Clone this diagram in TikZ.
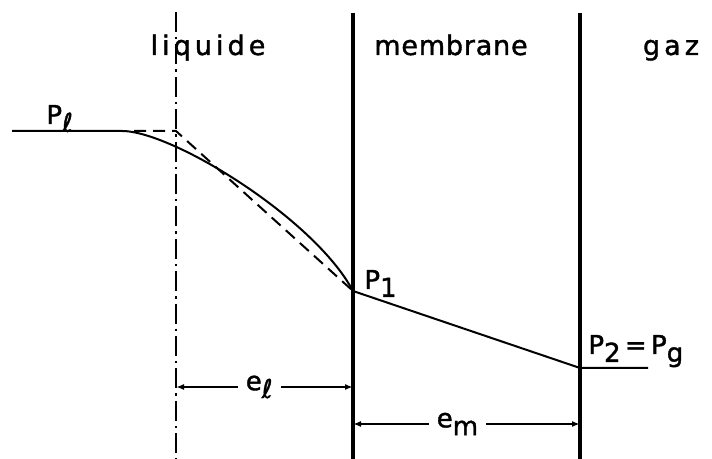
\documentclass[tikz,border=0pt]{standalone}
\usepackage{fontspec}
\setmainfont[FakeBold=1.4]{DejaVu Sans}
\newfontfamily\widefont[LetterSpace=15,FakeBold=1.4]{DejaVu Sans}
\newfontfamily\midfont[LetterSpace=3,FakeBold=1.4]{DejaVu Sans}
\usetikzlibrary{arrows.meta}
\newcommand{\lsub}[1]{\raisebox{-0.55ex}{#1}}

\begin{document}
\begin{tikzpicture}[
  x=0.5pt, y=-0.5pt,
  wall/.style={line width=1.6pt},
  axisline/.style={line width=1pt, dash pattern=on 10pt off 2.5pt on 1.2pt off 2.5pt},
  prof/.style={line width=1pt},
  tang/.style={line width=1pt, dash pattern=on 6pt off 3.5pt},
  dim/.style={{Latex[length=4pt,width=3pt]}-{Latex[length=4pt,width=3pt]}, line width=0.8pt},
  zone/.style={font=\fontsize{13.5}{15}\selectfont, anchor=base},
  lab/.style={font=\fontsize{13}{15}\selectfont, inner sep=0pt, anchor=base west},
  dimlab/.style={font=\fontsize{13}{15}\selectfont, fill=white, inner sep=4pt},
  ]
  \useasboundingbox (0,0) rectangle (712,459);
  % interfaces
  \coordinate (ax-top) at (176,12);
  \coordinate (ax-bot) at (176,459);
  \coordinate (m1-top) at (353,13);
  \coordinate (m1-bot) at (353,459);
  \coordinate (m2-top) at (580,13);
  \coordinate (m2-bot) at (580,459);
  \draw[axisline] (ax-top) -- (ax-bot);
  \draw[wall] (m1-top) -- (m1-bot);
  \draw[wall] (m2-top) -- (m2-bot);
  % zone names
  \node[zone] (liq) at (208,55) {\widefont liquide};
  \node[zone] (mem) at (451,55) {\midfont membrane};
  \node[zone] (gaz) at (671,55) {\widefont gaz};
  % pressure profile
  \coordinate (pl) at (12,131);
  \coordinate (bend) at (122,131);
  \coordinate (tan-start) at (134,131);
  \coordinate (knee) at (176,131);
  \coordinate (p1) at (353,291);
  \coordinate (p2) at (580,368);
  \coordinate (pg) at (648,368);
  \draw[prof] (pl) -- (bend) .. controls (172,131) and (314,218) .. (p1) -- (p2) -- (pg);
  \draw[tang] (tan-start) -- (knee) -- (p1);
  % pressure labels
  \node[lab] (lbl-pl) at (46,124) {P\lsub{ℓ}};
  \node[lab] (lbl-p1) at (364,289) {P\lsub{1}};
  \node[lab] (lbl-p2) at (588,354) {P\lsub{2}\,=\,P\lsub{g}};
  % thicknesses
  \coordinate (el-a) at (176,387);
  \coordinate (el-b) at (353,387);
  \coordinate (em-a) at (353,424);
  \coordinate (em-b) at (580,424);
  \draw[dim] (el-a) -- node[dimlab, pos=0.47] (el) {e\lsub{ℓ}} (el-b);
  \draw[dim] (em-a) -- node[dimlab, pos=0.46] (em) {e\lsub{m}} (em-b);
\end{tikzpicture}
\end{document}
